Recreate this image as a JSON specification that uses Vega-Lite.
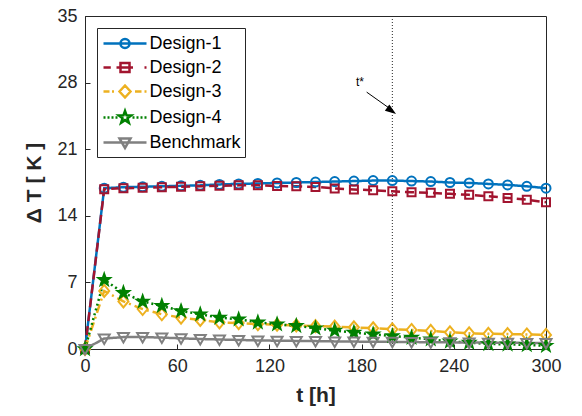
{
  "$schema": "https://vega.github.io/schema/vega-lite/v6.json",
  "width": 461,
  "height": 333,
  "autosize": {"type": "none"},
  "padding": {"left": 85, "top": 16, "right": 36, "bottom": 67},
  "background": "white",
  "config": {
    "font": "Liberation Sans",
    "view": {"stroke": "#262626", "strokeWidth": 1},
    "axis": {
      "grid": false,
      "labelFont": "Liberation Sans",
      "labelFontSize": 18,
      "labelColor": "#262626",
      "tickColor": "#262626",
      "domainColor": "#262626",
      "titleFont": "Liberation Sans",
      "titleFontSize": 21,
      "titleFontWeight": "bold",
      "titleColor": "#262626",
      "tickSize": -5,
      "labelFlush": false,
      "labelOverlap": false
    },
    "legend": {
      "title": null,
      "orient": "none",
      "direction": "vertical",
      "columns": 1,
      "legendX": 12,
      "legendY": 12,
      "strokeColor": "#262626",
      "fillColor": "white",
      "padding": 4,
      "rowPadding": 3,
      "symbolSize": 400,
      "symbolStrokeWidth": 2.5,
      "symbolOffset": 12.5,
      "labelOffset": 13,
      "labelAlign": "left",
      "labelFont": "Liberation Sans",
      "labelFontSize": 18,
      "labelColor": "black"
    }
  },
  "datasets": {
    "main": [
      {"t": 0, "Design-1": 0, "Design-2": 0, "Design-3": 0, "Design-4": 0, "Benchmark": 0},
      {"t": 12.5, "Design-1": 16.9, "Design-2": 16.8, "Design-3": 6.1, "Design-4": 7.27, "Benchmark": 1.1},
      {"t": 25, "Design-1": 17.0, "Design-2": 16.9, "Design-3": 5.0, "Design-4": 5.9, "Benchmark": 1.25},
      {"t": 37.5, "Design-1": 17.05, "Design-2": 16.95, "Design-3": 4.2, "Design-4": 5.0, "Benchmark": 1.25},
      {"t": 50, "Design-1": 17.1, "Design-2": 17.0, "Design-3": 3.65, "Design-4": 4.53, "Benchmark": 1.2},
      {"t": 62.5, "Design-1": 17.15, "Design-2": 17.05, "Design-3": 3.3, "Design-4": 4.0, "Benchmark": 1.12},
      {"t": 75, "Design-1": 17.2, "Design-2": 17.1, "Design-3": 3.06, "Design-4": 3.65, "Benchmark": 1.05},
      {"t": 87.5, "Design-1": 17.3, "Design-2": 17.15, "Design-3": 2.8, "Design-4": 3.3, "Benchmark": 1.0},
      {"t": 100, "Design-1": 17.35, "Design-2": 17.2, "Design-3": 2.72, "Design-4": 3.13, "Benchmark": 0.95},
      {"t": 112.5, "Design-1": 17.4, "Design-2": 17.2, "Design-3": 2.62, "Design-4": 2.8, "Benchmark": 0.9},
      {"t": 125, "Design-1": 17.45, "Design-2": 17.13, "Design-3": 2.55, "Design-4": 2.6, "Benchmark": 0.87},
      {"t": 137.5, "Design-1": 17.5, "Design-2": 17.1, "Design-3": 2.47, "Design-4": 2.43, "Benchmark": 0.85},
      {"t": 150, "Design-1": 17.55, "Design-2": 17.04, "Design-3": 2.4, "Design-4": 2.18, "Benchmark": 0.83},
      {"t": 162.5, "Design-1": 17.6, "Design-2": 16.87, "Design-3": 2.35, "Design-4": 1.93, "Benchmark": 0.8},
      {"t": 175, "Design-1": 17.65, "Design-2": 16.76, "Design-3": 2.28, "Design-4": 1.72, "Benchmark": 0.78},
      {"t": 187.5, "Design-1": 17.7, "Design-2": 16.69, "Design-3": 2.18, "Design-4": 1.55, "Benchmark": 0.76},
      {"t": 200, "Design-1": 17.7, "Design-2": 16.58, "Design-3": 2.07, "Design-4": 1.37, "Benchmark": 0.75},
      {"t": 212.5, "Design-1": 17.65, "Design-2": 16.48, "Design-3": 2.0, "Design-4": 1.2, "Benchmark": 0.73},
      {"t": 225, "Design-1": 17.6, "Design-2": 16.41, "Design-3": 1.9, "Design-4": 1.02, "Benchmark": 0.71},
      {"t": 237.5, "Design-1": 17.5, "Design-2": 16.31, "Design-3": 1.75, "Design-4": 0.8, "Benchmark": 0.7},
      {"t": 250, "Design-1": 17.45, "Design-2": 16.2, "Design-3": 1.65, "Design-4": 0.67, "Benchmark": 0.68},
      {"t": 262.5, "Design-1": 17.35, "Design-2": 16.06, "Design-3": 1.6, "Design-4": 0.53, "Benchmark": 0.67},
      {"t": 275, "Design-1": 17.25, "Design-2": 15.88, "Design-3": 1.57, "Design-4": 0.49, "Benchmark": 0.65},
      {"t": 287.5, "Design-1": 17.1, "Design-2": 15.7, "Design-3": 1.53, "Design-4": 0.42, "Benchmark": 0.64},
      {"t": 300, "Design-1": 16.9, "Design-2": 15.42, "Design-3": 1.48, "Design-4": 0.35, "Benchmark": 0.62}
    ]
  },
  "layer": [
    {
      "data": {"values": [{"t": 200}]},
      "mark": {"type": "rule", "color": "#262626", "strokeWidth": 1, "strokeDash": [1, 2]},
      "encoding": {"x": {"field": "t", "type": "quantitative"}}
    },
    {
      "data": {"values": [{"x1": 183.3, "y1": 27.0, "x2": 199.0, "y2": 25.2}]},
      "mark": {"type": "rule", "color": "black", "strokeWidth": 1},
      "encoding": {
        "x": {"field": "x1", "type": "quantitative"},
        "y": {"field": "y1", "type": "quantitative"},
        "x2": {"field": "x2"},
        "y2": {"field": "y2"}
      }
    },
    {
      "data": {"values": [{"x": 199.5, "y": 25.03}]},
      "mark": {"type": "point", "shape": "M1,0L-1,-0.7L-1,0.7Z", "filled": true, "color": "black", "size": 120, "angle": 35, "opacity": 1},
      "encoding": {
        "x": {"field": "x", "type": "quantitative"},
        "y": {"field": "y", "type": "quantitative"}
      }
    },
    {
      "data": {"values": [{"x": 181.5, "y": 28.1, "label": "t*"}]},
      "mark": {"type": "text", "align": "right", "baseline": "middle", "fontSize": 12, "font": "Liberation Sans", "color": "black"},
      "encoding": {
        "x": {"field": "x", "type": "quantitative"},
        "y": {"field": "y", "type": "quantitative"},
        "text": {"field": "label"}
      }
    },
    {
      "data": {"name": "main"},
      "transform": [{"fold": ["Design-1", "Design-2", "Design-3", "Design-4", "Benchmark"], "as": ["series", "v"]}],
      "mark": {"type": "line", "strokeWidth": 2.5},
      "encoding": {
        "x": {"field": "t", "type": "quantitative", "scale": {"domain": [0, 300], "nice": false},
              "axis": {"values": [0, 60, 120, 180, 240, 300], "title": "t [h]", "labelPadding": 13, "titlePadding": 9}},
        "y": {"field": "v", "type": "quantitative", "scale": {"domain": [0, 35], "nice": false},
              "axis": {"values": [0, 7, 14, 21, 28, 35], "title": "Δ T [ K ]", "labelPadding": 13, "titlePadding": 12}},
        "stroke": {"field": "series", "type": "nominal",
                   "scale": {"domain": ["Design-1", "Design-2", "Design-3", "Design-4", "Benchmark"],
                             "range": ["#0072BD", "#A2142F", "#EDB120", "#008000", "#808080"]},
                   "legend": null},
        "strokeDash": {"field": "series", "type": "nominal",
                       "scale": {"domain": ["Design-1", "Design-2", "Design-3", "Design-4", "Benchmark"],
                                 "range": [[1, 0], [9, 5], [9, 4, 2, 4], [2, 3], [1, 0]]},
                       "legend": null}
      }
    },
    {
      "data": {"name": "main"},
      "transform": [{"fold": ["Design-1", "Design-2", "Design-3", "Design-4", "Benchmark"], "as": ["series", "v"]}],
      "mark": {"type": "point", "size": 400, "strokeWidth": 2, "opacity": 1},
      "encoding": {
        "x": {"field": "t", "type": "quantitative"},
        "y": {"field": "v", "type": "quantitative"},
        "stroke": {"field": "series", "type": "nominal", "legend": null},
        "fill": {"field": "series", "type": "nominal",
                 "scale": {"domain": ["Design-1", "Design-2", "Design-3", "Design-4", "Benchmark"],
                           "range": ["transparent", "transparent", "transparent", "#008000", "transparent"]},
                 "legend": null},
        "shape": {"field": "series", "type": "nominal",
                  "scale": {"domain": ["Design-1", "Design-2", "Design-3", "Design-4", "Benchmark"],
                            "range": [
                              "M0.45,0A0.45,0.45 0 1,1 -0.45,0A0.45,0.45 0 1,1 0.45,0Z",
                              "M-0.4,-0.4H0.4V0.4H-0.4Z",
                              "M0,-0.6L0.5,0L0,0.6L-0.5,0Z",
                              "M0,-0.6L0.141,-0.195L0.571,-0.185L0.228,0.075L0.353,0.485L0,0.24L-0.353,0.485L-0.228,0.075L-0.571,-0.185L-0.141,-0.195Z",
                              "M-0.55,-0.4H0.55L0,0.55Z"
                            ]},
                  "legend": null}
      }
    },
    {
      "data": {"name": "main"},
      "transform": [{"fold": ["Design-1", "Design-2", "Design-3", "Design-4", "Benchmark"], "as": ["series", "v"]}],
      "mark": {"type": "point", "size": 400, "strokeWidth": 2.5, "opacity": 0},
      "encoding": {
        "x": {"field": "t", "type": "quantitative"},
        "y": {"field": "v", "type": "quantitative"},
        "stroke": {"field": "series", "type": "nominal", "legend": {}},
        "fill": {"field": "series", "type": "nominal", "legend": {}},
        "shape": {"field": "series", "type": "nominal",
                  "scale": {"domain": ["Design-1", "Design-2", "Design-3", "Design-4", "Benchmark"],
                            "range": [
                              "M-2.15,0H2.15M0.45,0A0.45,0.45 0 1,1 -0.45,0A0.45,0.45 0 1,1 0.45,0Z",
                              "M-2.15,0H-1.42M-0.85,0H0.8M1.95,0H2.15M-0.45,-0.45H0.45V0.45H-0.45Z",
                              "M-2.15,0H-1.55M-1.3,0H-1.1M1.0,0H1.65M1.95,0H2.15M0,-0.6L0.55,0L0,0.6L-0.55,0Z",
                              "M-2.15,0H-1.95M-1.75,0H-1.55M-1.35,0H-1.15M-0.95,0H-0.75M0.75,0H0.95M1.15,0H1.35M1.55,0H1.75M1.95,0H2.15M0,-0.65L0.153,-0.211L0.618,-0.201L0.247,0.081L0.382,0.526L0,0.26L-0.382,0.526L-0.247,0.081L-0.618,-0.201L-0.153,-0.211Z",
                              "M-2.15,0H2.15M-0.55,-0.4H0.55L0,0.55Z"
                            ]},
                  "legend": {}}
      }
    }
  ],
  "resolve": {
    "scale": {"shape": "independent"},
    "legend": {"stroke": "independent", "fill": "independent", "shape": "independent"}
  }
}
